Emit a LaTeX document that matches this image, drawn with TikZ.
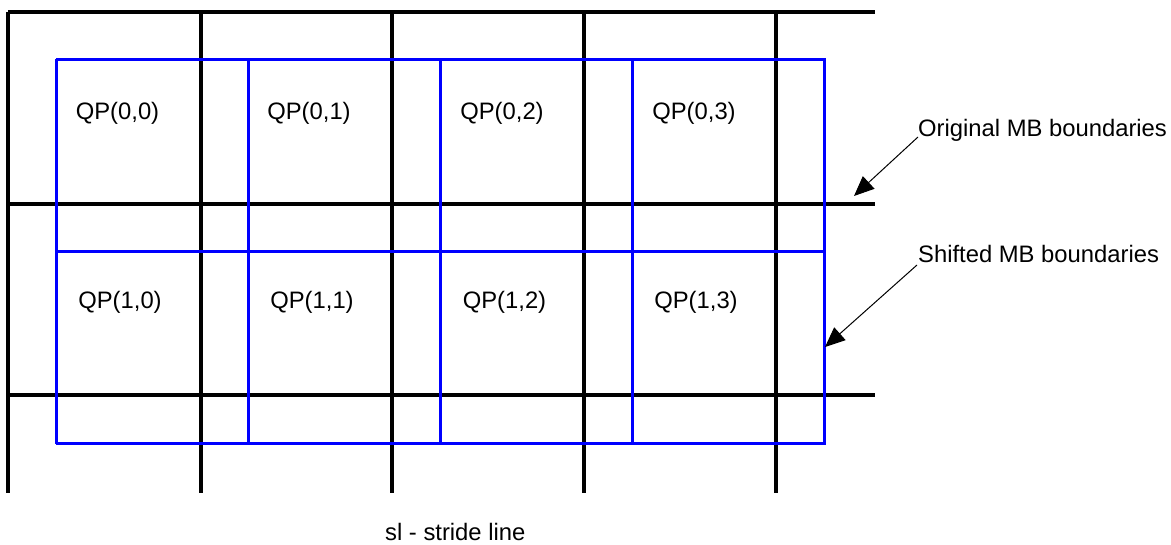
\documentclass[tikz,border=0pt]{standalone}
\usepackage{fontspec}
\setmainfont{Liberation Sans}
\usetikzlibrary{arrows.meta}
\begin{document}
\begin{tikzpicture}[x=1pt,y=-1pt,
  mbline/.style={black,line width=3.3pt},
  shline/.style={blue,line width=3pt},
  lbl/.style={inner sep=0pt,anchor=base,font=\fontsize{23.8}{28}\selectfont},
  note/.style={inner sep=0pt,anchor=base west,font=\fontsize{23.8}{28}\selectfont},
  pointer/.style={black,line width=1pt,-{Triangle[length=20pt,width=17pt]}}]
\useasboundingbox (0,0) rectangle (1171,544);
% original MB boundaries (black)
\foreach \y in {12,204,395} \draw[mbline] (8,\y) -- (875,\y);
\foreach \x in {8,201,392,584,776} \draw[mbline] (\x,12) -- (\x,493);
% shifted MB boundaries (blue)
\foreach \y in {59,251,443} \draw[shline] (56,\y) -- (826,\y);
\foreach \x in {56,248,440,632,824} \draw[shline] (\x,59) -- (\x,444);
% labels
\node[lbl] (q00) at (117.5,119) {QP(0,0)};
\node[lbl] (q01) at (309,119) {QP(0,1)};
\node[lbl] (q02) at (502,119) {QP(0,2)};
\node[lbl] (q03) at (694,119) {QP(0,3)};
\node[lbl] (q10) at (120,308) {QP(1,0)};
\node[lbl] (q11) at (312,308) {QP(1,1)};
\node[lbl] (q12) at (504.5,308) {QP(1,2)};
\node[lbl] (q13) at (696,308) {QP(1,3)};
\node[note] (orig) at (918,136) {Original MB boundaries};
\node[note] (shift) at (918,262) {Shifted MB boundaries};
\node[note] (sl) at (385,540) {sl - stride line};
\coordinate (origtip) at (854,196);
\coordinate (shifttip) at (825,347);
\draw[pointer] ([yshift=-1pt]orig.base west) -- (origtip);
\draw[pointer] ([xshift=-1pt,yshift=-3pt]shift.base west) -- (shifttip);
\end{tikzpicture}
\end{document}
